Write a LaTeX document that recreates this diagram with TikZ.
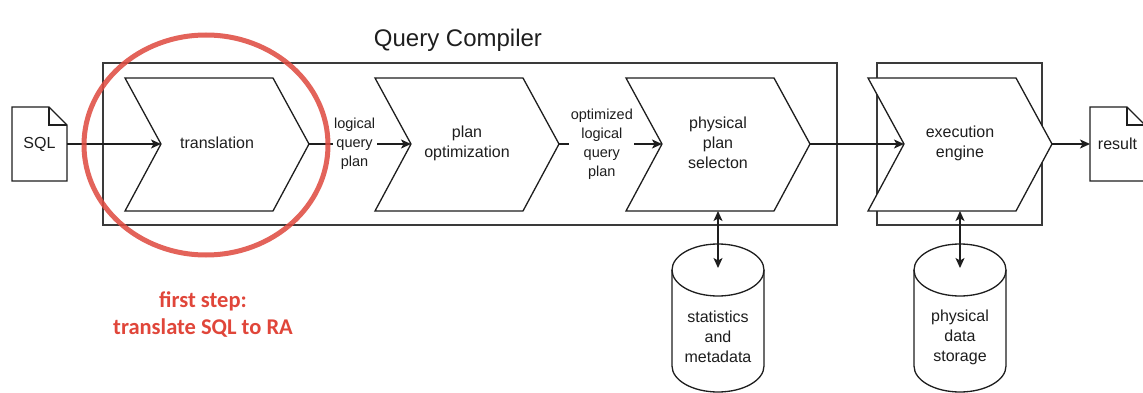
\documentclass[tikz,border=0pt]{standalone}
\usepackage{fontspec}
\setmainfont{Liberation Sans}
\newfontfamily\notefont{Carlito}
\usetikzlibrary{arrows.meta}

\definecolor{ink}{HTML}{1E1E1E}
\definecolor{frame}{HTML}{3A3A3A}
\definecolor{notered}{HTML}{E0463A}
\definecolor{ringred}{HTML}{DF4D43}

\tikzset{
  stagebox/.style={draw=ink, line width=1.3pt, fill=white},
  groupbox/.style={draw=frame, line width=1.6pt},
  docshape/.style={draw=ink, line width=1.3pt, fill=white},
  flow/.style={draw=ink, line width=1.3pt, -{Stealth[length=10pt,width=9pt,inset=2.5pt]}},
  bothflow/.style={draw=ink, line width=1.3pt,
    {Stealth[length=10pt,width=9pt,inset=2.5pt]}-{Stealth[length=10pt,width=9pt,inset=2.5pt]}},
  stagetext/.style={font=\fontsize{16}{20}\selectfont, align=center, text=ink},
  edgelabel/.style={font=\fontsize{14.5}{19}\selectfont, align=center,
    fill=white, inner sep=1.5pt, text=ink},
  ring/.style={draw=ringred, line width=5pt, opacity=0.88},
  notetext/.style={font=\notefont\bfseries\fontsize{22.5}{27}\selectfont,
    align=center, text=notered},
}

% chevron-shaped processing stage: name, left x, label
\newcommand{\stage}[3]{%
  \draw[stagebox] (#2,78) -- ({#2+148},78) -- ({#2+184},144) -- ({#2+148},211)
    -- (#2,211) -- ({#2+36},144) -- cycle;
  \coordinate (#1-in) at ({#2+36},144);
  \coordinate (#1-out) at ({#2+184},144);
  \coordinate (#1-bot) at ({#2+92},211);
  \node[stagetext] (#1) at ({#2+92},143) {#3};
}

% cylinder-shaped data store: name, centre x, label
\newcommand{\store}[3]{%
  \draw[docshape] ({#2-46},270) -- ({#2-46},366)
    arc[start angle=180, end angle=360, x radius=46pt, y radius=26pt]
    -- ({#2+46},270)
    arc[start angle=0, end angle=180, x radius=46pt, y radius=26pt] -- cycle;
  \draw[docshape, fill=none] ({#2-46},270)
    arc[start angle=180, end angle=360, x radius=46pt, y radius=26pt];
  \coordinate (#1-top) at (#2,268);
  \node[stagetext] (#1) at (#2,337) {#3};
}

% document with folded corner: name, left x, label
\newcommand{\paperdoc}[3]{%
  \draw[docshape] (#2,107) -- ({#2+37},107) -- ({#2+55},125) -- ({#2+55},181)
    -- (#2,181) -- cycle;
  \draw[docshape, fill=none] ({#2+37},107) -- ({#2+37},125) -- ({#2+55},125);
  \coordinate (#1-in) at (#2,144);
  \coordinate (#1-out) at ({#2+55},144);
  \node[stagetext] (#1) at ({#2+27.5},144) {#3};
}

\begin{document}
\begin{tikzpicture}[x=1pt, y=-1pt]
\useasboundingbox (0,0) rectangle (1143,393);

% grouping frames
\draw[groupbox] (103,63) rectangle (837,225);
\draw[groupbox] (877,63) rectangle (1042,225);
\node[font=\fontsize{24}{28}\selectfont, text=ink] (title) at (458,40) {Query Compiler};

% processing stages
\stage{trans}{125}{translation}
\stage{plan}{375}{plan\\optimization}
\stage{phys}{626}{physical\\plan\\selecton}
\stage{exec}{868}{execution\\engine}

% input and output documents
\paperdoc{sql}{12}{SQL}
\paperdoc{result}{1090}{result}

% data stores
\store{stats}{718}{statistics\\and\\metadata}
\store{storage}{960}{physical\\data\\storage}

% data flow
\draw[flow] (sql-out) -- (trans-in);
\draw[flow] (trans-out) -- node[edgelabel, pos=0.447] (lqp) {logical\\query\\plan} (plan-in);
\draw[flow] (plan-out) -- node[edgelabel, pos=0.416] (olqp) {optimized\\logical\\query\\plan} (phys-in);
\draw[flow] (phys-out) -- (exec-in);
\draw[flow] (exec-out) -- (result-in);
\draw[bothflow] (phys-bot) -- (stats-top);
\draw[bothflow] (exec-bot) -- (storage-top);

% highlight of the first step
\draw[ring] (206,145) ellipse[x radius=122pt, y radius=110pt];
\node[notetext] (note) at (203,314) {first step:\\translate SQL to RA};
\end{tikzpicture}
\end{document}
